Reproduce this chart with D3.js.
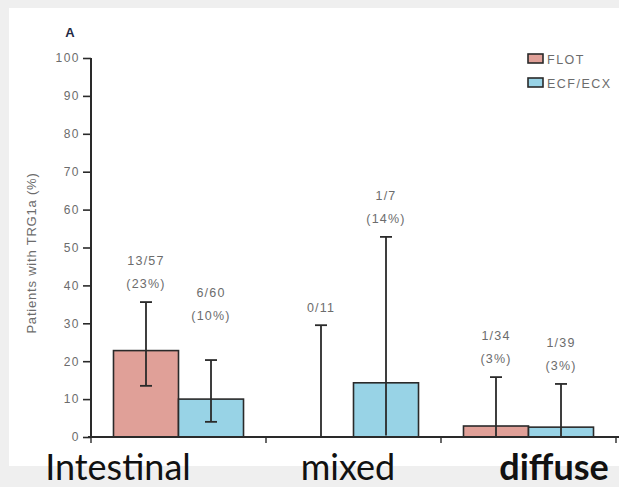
<!DOCTYPE html>
<html>
<head>
<meta charset="utf-8">
<script src="https://cdn.jsdelivr.net/npm/d3@7"></script>
<style>
  html, body { margin: 0; padding: 0; background: #efefef; }
  svg { display: block; }
</style>
</head>
<body>
<svg id="chart" width="619" height="487"></svg>
<script>
// Pathological complete response (TRG1a) by Laurén subtype
const categories = ["Intestinal", "mixed", "diffuse"];
const series = ["FLOT", "ECF/ECX"];

const flotValues = [22.8, 0, 2.9];
const flotLower = [13.5, 0, 0.1];
const flotUpper = [35.6, 29.5, 15.8];
const flotCounts = ["13/57", "0/11", "1/34"];
const flotPercents = ["(23%)", "", "(3%)"];

const ecfValues = [10, 14.3, 2.6];
const ecfLower = [4, 0.4, 0.1];
const ecfUpper = [20.3, 52.8, 14];
const ecfCounts = ["6/60", "1/7", "1/39"];
const ecfPercents = ["(10%)", "(14%)", "(3%)"];

const yTicks = [0, 10, 20, 30, 40, 50, 60, 70, 80, 90, 100];

const colors = { "FLOT": "#e0a098", "ECF/ECX": "#98d3e6" };

const rows = [];
categories.forEach((c, i) => {
  rows.push({ cat: c, s: "FLOT", v: flotValues[i], lo: flotLower[i], hi: flotUpper[i], n: flotCounts[i], p: flotPercents[i] });
  rows.push({ cat: c, s: "ECF/ECX", v: ecfValues[i], lo: ecfLower[i], hi: ecfUpper[i], n: ecfCounts[i], p: ecfPercents[i] });
});

const svg = d3.select("#chart");
const sans = "Liberation Sans, Arial, sans-serif";

// white plotting panel
svg.append("rect").attr("x", 9).attr("y", 8).attr("width", 610).attr("height", 458).attr("fill", "#ffffff");

const y = d3.scaleLinear().domain([0, 100]).range([437, 58]);
const x0 = d3.scaleBand().domain(categories).range([91, 616]).paddingInner(0).paddingOuter(0);
const x1 = d3.scaleBand().domain(series).range([0, x0.bandwidth()]).paddingInner(0).paddingOuter(0.346);

const ink = "#2a2a2a";
const textGray = "#6c6c6c";

// bars
svg.append("g").selectAll("rect").data(rows).join("rect")
  .attr("x", d => x0(d.cat) + x1(d.s))
  .attr("y", d => y(d.v))
  .attr("width", x1.bandwidth())
  .attr("height", d => y(0) - y(d.v))
  .attr("fill", d => colors[d.s])
  .attr("stroke", ink)
  .attr("stroke-width", 1.6)
  .attr("visibility", d => d.v > 0 ? "visible" : "hidden");

// confidence intervals
const capW = 12;
const eb = svg.append("g").attr("stroke", ink).attr("stroke-width", 1.8);
rows.forEach(d => {
  const cx = x0(d.cat) + x1(d.s) + x1.bandwidth() / 2;
  eb.append("line").attr("x1", cx).attr("x2", cx).attr("y1", y(d.lo)).attr("y2", y(d.hi));
  eb.append("line").attr("x1", cx - capW / 2).attr("x2", cx + capW / 2).attr("y1", y(d.hi)).attr("y2", y(d.hi));
  if (d.lo > 1) {
    eb.append("line").attr("x1", cx - capW / 2).attr("x2", cx + capW / 2).attr("y1", y(d.lo)).attr("y2", y(d.lo));
  }
});

// count / percentage labels above each interval
const lift = { "6/60": 26 };
const lab = svg.append("g").attr("font-family", sans)
  .attr("font-size", 12.5).attr("letter-spacing", 1.2)
  .attr("fill", textGray).attr("text-anchor", "middle");
rows.forEach(d => {
  const cx = x0(d.cat) + x1(d.s) + x1.bandwidth() / 2;
  const base = y(d.hi) - 14 - (lift[d.n] || 0);
  if (d.p) {
    lab.append("text").attr("x", cx).attr("y", base).text(d.p);
    lab.append("text").attr("x", cx).attr("y", base - 23).text(d.n);
  } else {
    lab.append("text").attr("x", cx).attr("y", base + 1).text(d.n);
  }
});

// y axis
const yAxis = d3.axisLeft(y).tickValues(yTicks).tickSize(8).tickPadding(3);
const gy = svg.append("g").attr("transform", "translate(91,0)").call(yAxis);
gy.select(".domain").attr("stroke", ink).attr("stroke-width", 2).attr("d", "M0,437V58");
gy.selectAll(".tick line").attr("stroke", ink).attr("stroke-width", 1.6);
gy.selectAll(".tick text").attr("fill", textGray).attr("font-size", 12)
  .attr("font-family", sans).attr("letter-spacing", 1.5);

// x axis
const xAxis = d3.axisBottom(x0).tickValues([]).tickSizeOuter(0);
const gx = svg.append("g").attr("transform", "translate(0,437)").call(xAxis);
gx.select(".domain").attr("stroke", ink).attr("stroke-width", 2).attr("d", "M88,0H619");
const bounds = [91].concat(categories.map(c => x0(c) + x0.bandwidth()));
gx.selectAll("line.bnd").data(bounds).join("line").attr("class", "bnd")
  .attr("x1", d => d).attr("x2", d => d).attr("y1", 0).attr("y2", 6)
  .attr("stroke", ink).attr("stroke-width", 1.4);

// y axis title
svg.append("text")
  .attr("transform", "translate(36,253) rotate(-90)")
  .attr("text-anchor", "middle")
  .attr("font-family", sans)
  .attr("font-size", 13).attr("letter-spacing", 0.8).attr("fill", textGray)
  .text("Patients with TRG1a (%)");

// panel letter
svg.append("text").attr("x", 70).attr("y", 37).attr("text-anchor", "middle")
  .attr("font-family", sans).attr("font-weight", "bold")
  .attr("font-size", 13).attr("fill", "#1f2a44").text("A");

// legend
const lg = svg.append("g");
series.forEach((s, i) => {
  const ly = 54 + i * 24;
  lg.append("rect").attr("x", 528).attr("y", ly).attr("width", 15).attr("height", 9)
    .attr("fill", colors[s]).attr("stroke", ink).attr("stroke-width", 1.6);
  lg.append("text").attr("x", 547).attr("y", ly + 9.5)
    .attr("font-family", sans).attr("font-size", 12.5).attr("letter-spacing", 1.5)
    .attr("fill", textGray).text(s);
});

// subtype captions underneath
const capX = { "Intestinal": 118, "mixed": 348, "diffuse": 554 };
svg.append("g").selectAll("text").data(categories).join("text")
  .attr("x", d => capX[d])
  .attr("y", 480)
  .attr("text-anchor", "middle")
  .attr("font-family", "Lato, 'Open Sans', sans-serif")
  .attr("font-size", 36)
  .attr("font-weight", d => d === "diffuse" ? "bold" : "normal")
  .attr("fill", "#111")
  .text(d => d);
</script>
</body>
</html>
